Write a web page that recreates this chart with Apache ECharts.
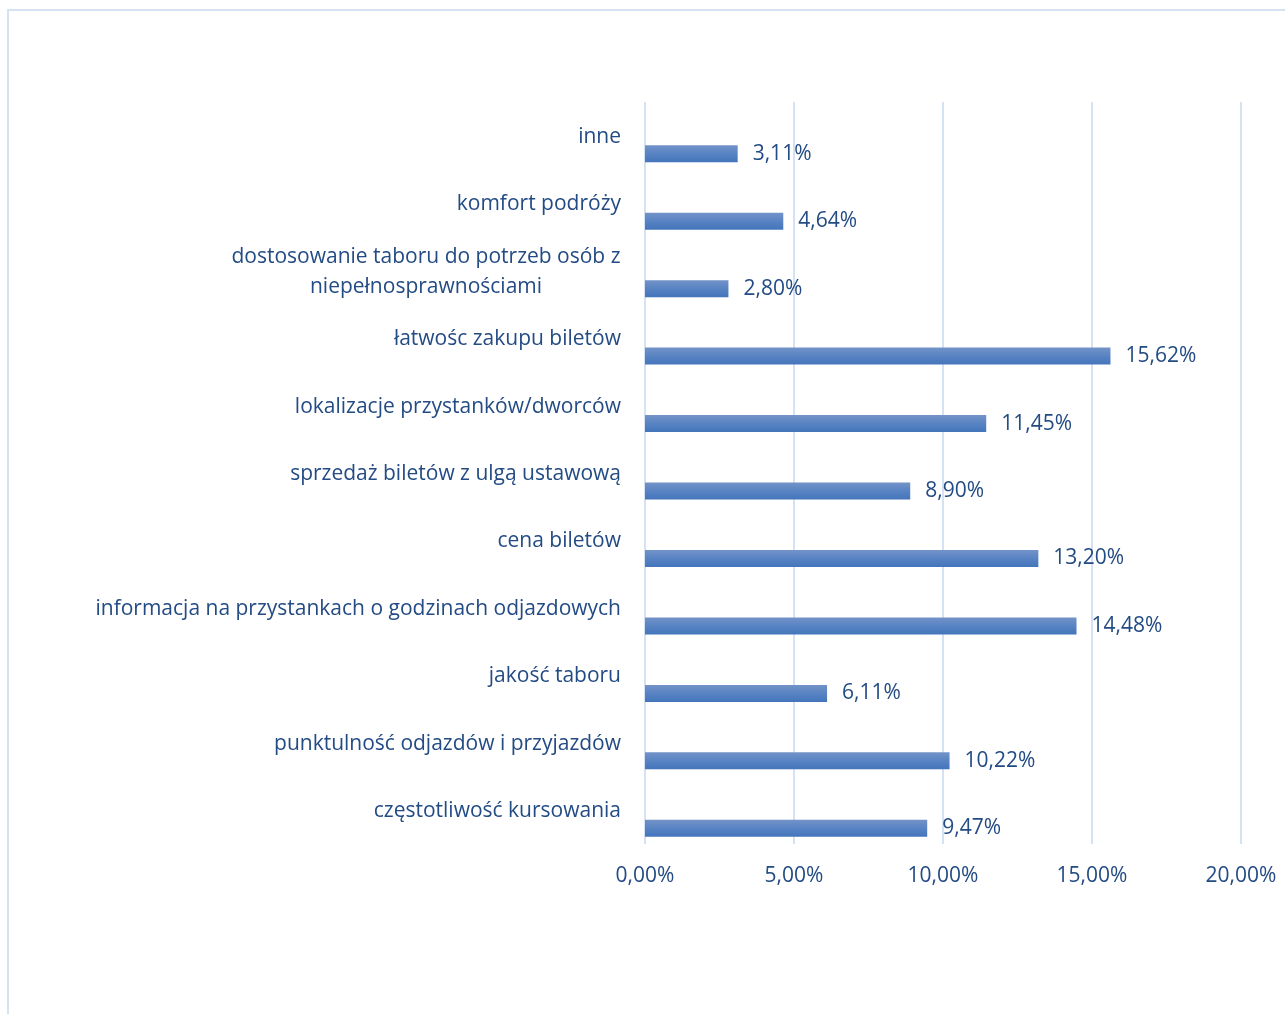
<!DOCTYPE html>
<html>
<head>
<meta charset="utf-8">
<script src="https://cdn.jsdelivr.net/npm/echarts@6/dist/echarts.min.js"></script>
<style>
  html, body { margin: 0; padding: 0; background: #ffffff; }
  #chart { width: 1285px; height: 1014px; }
</style>
</head>
<body>
<div id="chart"></div>
<script>
// Categories listed top to bottom
const categories = [
  'inne',
  'komfort podróży',
  'dostosowanie taboru do potrzeb osób z\nniepełnosprawnościami',
  'łatwośc zakupu biletów',
  'lokalizacje przystanków/dworców',
  'sprzedaż biletów z ulgą ustawową',
  'cena biletów',
  'informacja na przystankach o godzinach odjazdowych',
  'jakość taboru',
  'punktulność odjazdów i przyjazdów',
  'częstotliwość kursowania'
];
// Share of answers, in percent
const shares = [3.11, 4.64, 2.80, 15.62, 11.45, 8.90, 13.20, 14.48, 6.11, 10.22, 9.47];
// Empty companion series that keeps the bars in the lower half of each band
const emptySeries = categories.map(() => null);
const xTicks = [0, 5, 10, 15, 20];

const textColor = '#234b84';
const gridColor = '#d5e2f3';
const fontFamily = '"Open Sans", sans-serif';
const fontSize = 21;

const pct = v => v.toFixed(2).replace('.', ',') + '%';

const chart = echarts.init(document.getElementById('chart'), null, { renderer: 'canvas' });
chart.setOption({
  backgroundColor: '#ffffff',
  animation: false,
  textStyle: { fontFamily: fontFamily },
  graphic: [{
    type: 'rect',
    silent: true,
    z: -10,
    shape: { x: 8, y: 10, width: 1400, height: 1200 },
    style: { fill: 'none', stroke: gridColor, lineWidth: 2 }
  }],
  grid: { left: 645, right: 44, top: 102, bottom: 170, containLabel: false },
  xAxis: {
    type: 'value',
    min: xTicks[0],
    max: xTicks[xTicks.length - 1],
    interval: 5,
    axisLine: { show: false },
    axisTick: { show: false },
    splitLine: { show: true, lineStyle: { color: gridColor, width: 2 } },
    axisLabel: {
      color: textColor, fontSize: fontSize, margin: 22, fontFamily: fontFamily,
      formatter: v => pct(v)
    }
  },
  yAxis: {
    type: 'category',
    inverse: true,
    data: categories,
    axisLine: { show: false },
    axisTick: { show: false },
    axisLabel: {
      color: textColor, fontSize: fontSize, margin: 24, fontFamily: fontFamily,
      lineHeight: 30,
      padding: [2, 0, 0, 0],
      formatter: function (v) {
        if (v.indexOf('\n') >= 0) {
          return v.split('\n').map(s => '{c|' + s + '}').join('\n');
        }
        return v;
      },
      rich: {
        c: { width: 390, align: 'center', color: textColor, fontSize: fontSize, lineHeight: 30, fontFamily: fontFamily }
      }
    }
  },
  series: [
    {
      type: 'bar',
      data: emptySeries,
      barWidth: 17,
      barGap: '112%',
      silent: true
    },
    {
      type: 'bar',
      data: shares,
      barWidth: 17,
      barGap: '112%',
      itemStyle: {
        color: new echarts.graphic.LinearGradient(0, 0, 0, 1, [
          { offset: 0, color: '#7393c8' },
          { offset: 0.5, color: '#5883c3' },
          { offset: 1, color: '#4375bb' }
        ])
      },
      label: {
        show: true,
        position: 'right',
        distance: 15,
        padding: [2, 0, 0, 0],
        color: textColor,
        fontSize: fontSize,
        fontFamily: fontFamily,
        formatter: p => pct(p.value)
      }
    }
  ]
});
</script>
</body>
</html>
